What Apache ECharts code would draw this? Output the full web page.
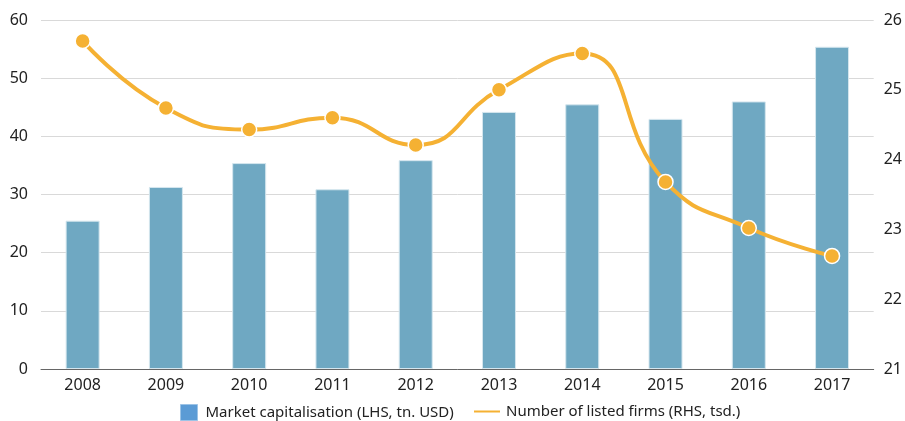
<!DOCTYPE html>
<html>
<head>
<meta charset="utf-8">
<script src="https://cdn.jsdelivr.net/npm/echarts@6/dist/echarts.min.js"></script>
<style>
html,body{margin:0;padding:0;background:#fff;}
#c{width:905px;height:421px;}
</style>
</head>
<body>
<div id="c"></div>
<script>
const years = ['2008','2009','2010','2011','2012','2013','2014','2015','2016','2017'];
const marketCap = [25.5, 31.3, 35.4, 30.9, 35.9, 44.2, 45.5, 43.0, 46.0, 55.4];
const listedFirms = [25.70, 24.74, 24.43, 24.60, 24.21, 25.00, 25.52, 23.68, 23.02, 22.62];
const barName = 'Market capitalisation (LHS, tn. USD)';
const lineName = 'Number of listed firms (RHS, tsd.)';

const font = 'Noto Sans';
const chart = echarts.init(document.getElementById('c'), null, {renderer:'canvas'});
chart.setOption({
  animation:false,
  backgroundColor:'#fff',
  textStyle:{fontFamily:font},
  grid:{left:41, right:27, top:20, bottom:52, containLabel:false},
  legend:[
    {data:[{name:barName, itemStyle:{color:'#5b9bd5', borderColor:'#9cc3e6', borderWidth:1}}],
     left:175, top:399, itemWidth:17, itemHeight:16, itemGap:8, icon:'rect',
     textStyle:{fontFamily:font, fontSize:15, color:'#222', padding:[0,0,0,3]}},
    {data:[{name:lineName, icon:'rect'}],
     left:467, top:399, itemWidth:28, itemHeight:4, icon:'rect',
     textStyle:{fontFamily:font, fontSize:15, color:'#222'}}
  ],
  xAxis:{type:'category', data:years,
    axisLine:{lineStyle:{color:'#666', width:1}},
    axisTick:{show:false},
    axisLabel:{fontFamily:font, fontSize:16, color:'#222', margin:8}},
  yAxis:[
    {type:'value', min:0, max:60, interval:10,
     axisLine:{show:false}, axisTick:{show:false},
     splitLine:{lineStyle:{color:'#d9d9d9', width:1}},
     axisLabel:{fontFamily:font, fontSize:16, color:'#222', margin:13}},
    {type:'value', min:21, max:26, interval:1,
     axisLine:{show:false}, axisTick:{show:false},
     splitLine:{show:false},
     axisLabel:{fontFamily:font, fontSize:16, color:'#222', margin:10}}
  ],
  series:[
    {name:barName, type:'bar', data:marketCap, barWidth:34, yAxisIndex:0,
     itemStyle:{color:'#6fa8c2', borderColor:'#d5e6ee', borderWidth:1}},
    {name:lineName, type:'line', data:listedFirms, yAxisIndex:1, smooth:0.5,
     symbol:'circle', symbolSize:15,
     lineStyle:{color:'#f5b133', width:4},
     itemStyle:{color:'#f5b133', borderColor:'#fff', borderWidth:1.5}}
  ]
});
</script>
</body>
</html>
